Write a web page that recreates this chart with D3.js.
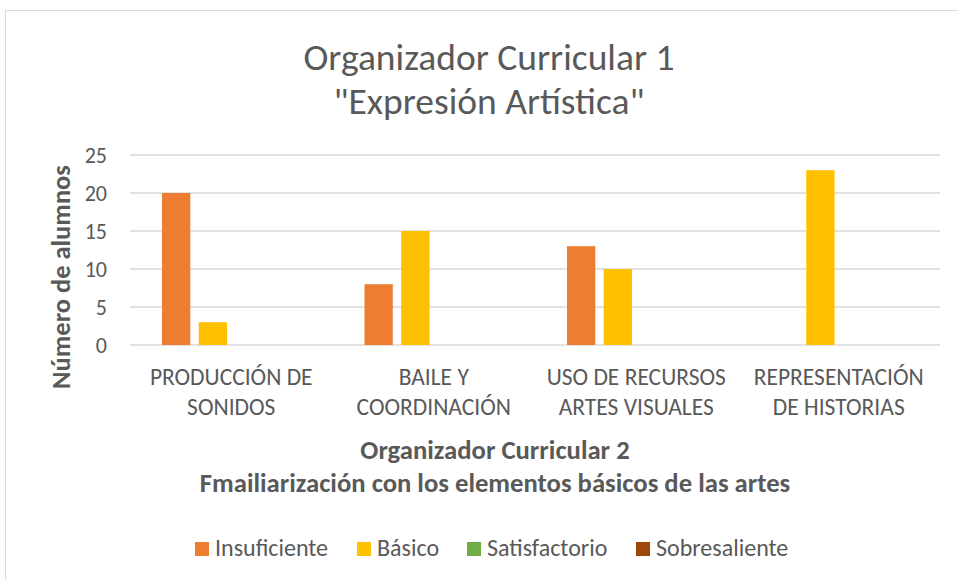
<!DOCTYPE html>
<html>
<head>
<meta charset="utf-8">
<script src="https://cdn.jsdelivr.net/npm/d3@7"></script>
<style>
  body { margin: 0; background: #fff; }
  text { font-family: Carlito, "Liberation Sans Narrow", "Open Sans", sans-serif; }
</style>
</head>
<body>
<div id="chart"></div>
<script>
var categories = [
    ["PRODUCCIÓN DE", "SONIDOS"],
    ["BAILE Y", "COORDINACIÓN"],
    ["USO DE RECURSOS", "ARTES VISUALES"],
    ["REPRESENTACIÓN", "DE HISTORIAS"]
];
var seriesNames = ["Insuficiente", "Básico", "Satisfactorio", "Sobresaliente"];
var insuficiente = [20, 8, 13, 0];
var basico = [3, 15, 10, 23];
var satisfactorio = [0, 0, 0, 0];
var sobresaliente = [0, 0, 0, 0];
var yTicks = [0, 5, 10, 15, 20, 25];
var colors = ["#ED7D31", "#FFC000", "#70AD47", "#9E480E"];

var seriesValues = [insuficiente, basico, satisfactorio, sobresaliente];

var svgWidth = 958;
var svgHeight = 580;
var margin = { t: 155, r: 18, b: 235, l: 130 };
var width = svgWidth - margin.l - margin.r;
var height = svgHeight - margin.t - margin.b;

var svg = d3.select("#chart")
    .append("svg")
    .attr("width", svgWidth)
    .attr("height", svgHeight);

// chart frame
svg.append("rect")
    .attr("x", 5.5)
    .attr("y", 10.5)
    .attr("width", 980)
    .attr("height", 600)
    .attr("fill", "none")
    .attr("stroke", "#d9d9d9")
    .attr("stroke-width", 1);

var chartGroup = svg.append("g")
    .attr("transform", `translate(${margin.l}, ${margin.t})`);

var x0 = d3.scaleBand()
    .domain(d3.range(categories.length))
    .range([0, width]);

var x1 = d3.scaleBand()
    .domain(d3.range(seriesNames.length))
    .range([32, x0.bandwidth() - 32])
    .paddingInner(0.23);

var yScale = d3.scaleLinear()
    .domain([0, 25])
    .range([height, 0]);

// gridlines
chartGroup.selectAll(".grid")
    .data(yTicks)
    .enter()
    .append("line")
    .attr("x1", 0)
    .attr("x2", width)
    .attr("y1", d => yScale(d))
    .attr("y2", d => yScale(d))
    .attr("stroke", "#d9d9d9")
    .attr("stroke-width", 1.5);

// y tick labels
var leftAxis = d3.axisLeft(yScale).tickValues(yTicks).tickSize(0).tickPadding(23);
var yAxisG = chartGroup.append("g").call(leftAxis);
yAxisG.select(".domain").remove();
yAxisG.selectAll("text")
    .attr("font-size", "22px")
    .attr("fill", "#595959")
    .style("font-family", "Carlito, 'Liberation Sans Narrow', 'Open Sans', sans-serif");

// bars
var groups = chartGroup.selectAll(".cat")
    .data(categories)
    .enter()
    .append("g")
    .attr("transform", (d, i) => `translate(${x0(i)}, 0)`);

groups.selectAll("rect")
    .data((d, i) => seriesValues.map((s, j) => ({ s: j, v: s[i] })))
    .enter()
    .append("rect")
    .attr("x", d => x1(d.s))
    .attr("width", x1.bandwidth())
    .attr("y", d => yScale(d.v))
    .attr("height", d => height - yScale(d.v))
    .attr("fill", d => colors[d.s]);

// category labels
groups.append("text")
    .attr("x", x0.bandwidth() / 2)
    .attr("y", height + 40)
    .attr("text-anchor", "middle")
    .attr("font-size", "23.5px")
    .attr("fill", "#595959")
    .selectAll("tspan")
    .data(d => d)
    .enter()
    .append("tspan")
    .attr("x", x0.bandwidth() / 2)
    .attr("dy", (d, i) => i === 0 ? 0 : 29.5)
    .text(d => d);

// title
svg.append("text")
    .attr("x", 489)
    .attr("y", 70)
    .attr("text-anchor", "middle")
    .attr("font-size", "37.5px")
    .attr("fill", "#595959")
    .text("Organizador Curricular 1");
svg.append("text")
    .attr("x", 489)
    .attr("y", 114)
    .attr("text-anchor", "middle")
    .attr("font-size", "37.5px")
    .attr("fill", "#595959")
    .text("\"Expresión Artística\"");

// y axis title
svg.append("text")
    .attr("transform", "rotate(-90)")
    .attr("x", -277)
    .attr("y", 70)
    .attr("text-anchor", "middle")
    .attr("font-size", "26.5px")
    .attr("font-weight", "bold")
    .attr("fill", "#595959")
    .text("Número de alumnos");

// x axis title
svg.append("text")
    .attr("x", 495)
    .attr("y", 459)
    .attr("text-anchor", "middle")
    .attr("font-size", "26.7px")
    .attr("font-weight", "bold")
    .attr("fill", "#595959")
    .text("Organizador Curricular 2");
svg.append("text")
    .attr("x", 495)
    .attr("y", 492)
    .attr("text-anchor", "middle")
    .attr("font-size", "26.7px")
    .attr("font-weight", "bold")
    .attr("fill", "#595959")
    .text("Fmailiarización con los elementos básicos de las artes");

// legend
var legendX = [195, 357, 467, 636];
var legend = svg.selectAll(".legend")
    .data(seriesNames)
    .enter()
    .append("g")
    .attr("transform", (d, i) => `translate(${legendX[i]}, 542)`);
legend.append("rect")
    .attr("width", 14)
    .attr("height", 14)
    .attr("fill", (d, i) => colors[i]);
legend.append("text")
    .attr("x", 20)
    .attr("y", 14)
    .attr("font-size", "24px")
    .attr("fill", "#595959")
    .text(d => d);
</script>
</body>
</html>
